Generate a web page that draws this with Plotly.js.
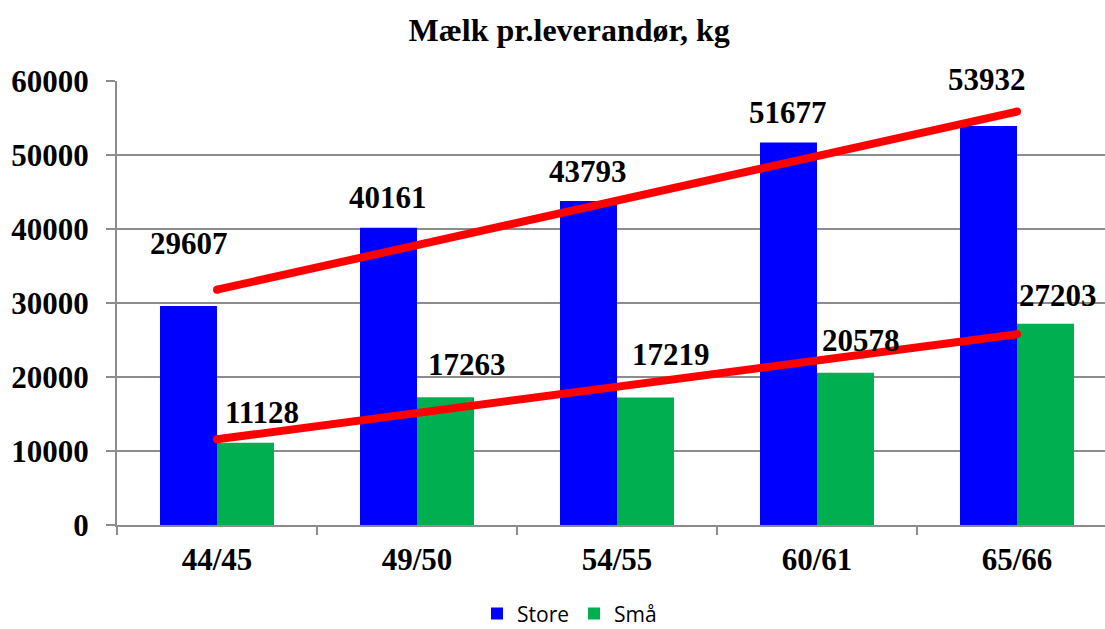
<!DOCTYPE html>
<html>
<head>
<meta charset="utf-8">
<script src="https://cdn.plot.ly/plotly-3.0.1.min.js"></script>
<style>html,body{margin:0;padding:0;background:#fff;}#chart{width:1105px;height:629px;}</style>
</head>
<body>
<div id="chart"></div>
<script>
const categories = ["44/45", "49/50", "54/55", "60/61", "65/66"];
const storeValues = [29607, 40161, 43793, 51677, 53932];
const smaValues = [11128, 17263, 17219, 20578, 27203];
const seriesNames = ["Store", "Små"];

// linear least-squares trendline (as in the spreadsheet's trendline)
function trend(vals) {
  const n = vals.length;
  const xs = vals.map((_, i) => i + 1);
  const mx = xs.reduce((a, b) => a + b, 0) / n;
  const my = vals.reduce((a, b) => a + b, 0) / n;
  let num = 0, den = 0;
  for (let i = 0; i < n; i++) { num += (xs[i] - mx) * (vals[i] - my); den += (xs[i] - mx) ** 2; }
  const s = num / den, b = my - s * mx;
  return [b + s * 1, b + s * n];
}

const serif = "Liberation Serif, Times New Roman, serif";
const blue = "#0000FF", green = "#00B050", red = "#FF0000";

const traces = [
  {type: "bar", x: categories, y: storeValues, name: seriesNames[0], marker: {color: blue}, hoverinfo: "y"},
  {type: "bar", x: categories, y: smaValues, name: seriesNames[1], marker: {color: green}, hoverinfo: "y"},
  {type: "scatter", mode: "lines+markers", x: [categories[0], categories[4]], y: trend(storeValues),
   line: {color: red, width: 8}, marker: {color: red, size: 8}, showlegend: false, hoverinfo: "skip"},
  {type: "scatter", mode: "lines+markers", x: [categories[0], categories[4]], y: trend(smaValues),
   line: {color: red, width: 8}, marker: {color: red, size: 8}, showlegend: false, hoverinfo: "skip"}
];

// label offsets (px) relative to category centre / bar top
const storeOff = [[-28, 62], [-29, 30], [-29, 29], [-29, 30], [-30, 46]];
const smaOff = [[45, 30], [50, 33], [54, 43], [44, 32], [41, 28]];
const annotations = [];
const labelFont = {family: serif, size: 31, color: "#000", weight: "bold"};
storeValues.forEach((v, i) => annotations.push({x: categories[i], y: v, text: String(v), showarrow: false,
  xshift: storeOff[i][0], yshift: storeOff[i][1], yanchor: "middle", font: labelFont}));
smaValues.forEach((v, i) => annotations.push({x: categories[i], y: v, text: String(v), showarrow: false,
  xshift: smaOff[i][0], yshift: smaOff[i][1], yanchor: "middle", font: labelFont}));

const layout = {
  width: 1105, height: 629,
  margin: {l: 117, r: 0, t: 81, b: 104},
  paper_bgcolor: "#fff", plot_bgcolor: "#fff",
  title: {text: "Mælk pr.leverandør, kg", x: 0.515, xref: "container", y: 0.952, yanchor: "middle",
    font: {family: serif, size: 32, color: "#000", weight: "bold"}},
  barmode: "group", bargap: 0.43, bargroupgap: 0,
  xaxis: {type: "category", range: [-0.5, 4.44], showline: true, linecolor: "#8c8c8c", linewidth: 2,
    ticks: "outside", tickson: "boundaries", ticklen: 8, tickcolor: "#8c8c8c", tickwidth: 2,
    ticklabelstandoff: 6,
    showgrid: false, tickfont: {family: serif, size: 31, color: "#000", weight: "bold"}, automargin: false},
  yaxis: {range: [0, 60000], dtick: 10000, showline: true, linecolor: "#8c8c8c", linewidth: 2,
    ticks: "outside", ticklen: 9, tickcolor: "#8c8c8c", tickwidth: 2, gridcolor: "#8c8c8c", gridwidth: 2,
    zeroline: false, tickformat: "d", ticklabelstandoff: 11,
    tickfont: {family: serif, size: 31, color: "#000", weight: "bold"}, automargin: false},
  legend: {orientation: "h", x: 0.458, xanchor: "center", yref: "container", y: 0.024, yanchor: "middle",
    font: {family: "Open Sans, Noto Sans, sans-serif", size: 21, color: "#000"}, itemwidth: 30,
    traceorder: "normal", tracegroupgap: 0},
  annotations: annotations,
  showlegend: true
};

Plotly.newPlot("chart", traces, layout, {staticPlot: true, displayModeBar: false});
</script>
</body>
</html>
